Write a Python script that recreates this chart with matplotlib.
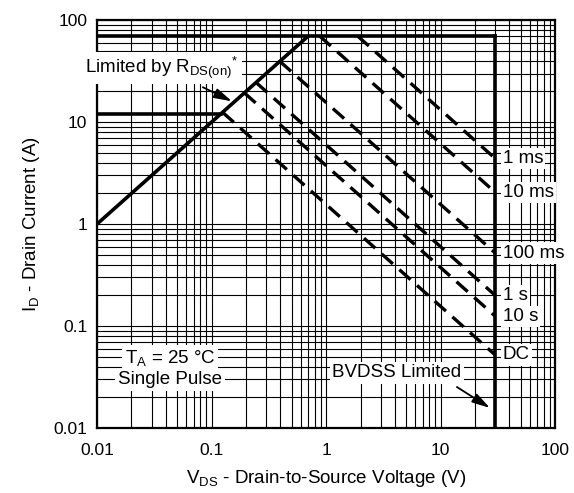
import numpy as np
import matplotlib.pyplot as plt
from matplotlib.ticker import FixedLocator, LogLocator, NullFormatter

plt.rcParams['font.family'] = ['Liberation Sans', 'DejaVu Sans']
plt.rcParams['mathtext.fontset'] = 'custom'
plt.rcParams['mathtext.rm'] = 'Liberation Sans'
plt.rcParams['mathtext.it'] = 'Liberation Sans'
plt.rcParams['mathtext.bf'] = 'Liberation Sans:bold'

# limits of the safe operating area
id_max = 70.0      # A, package limit
id_low = 12.0      # A, left flat segment
bvdss = 30.0       # V
rds_on = 0.01      # ohm -> I = V / rds_on

# pulse lines, current read at V = BVDSS
pulse_labels = ["1 ms", "10 ms", "100 ms", "1 s", "10 s", "DC"]
i_at_bvdss = [4.4, 2.05, 0.52, 0.2, 0.125, 0.052]

x_ticks = [0.01, 0.1, 1, 10, 100]
x_ticklabels = ["0.01", "0.1", "1", "10", "100"]
y_ticks = [0.01, 0.1, 1, 10, 100]
y_ticklabels = ["0.01", "0.1", "1", "10", "100"]

fs = 13.5

fig = plt.figure(figsize=(5.74, 4.93), dpi=100)
ax = fig.add_axes([0.169, 0.132, 0.798, 0.827])
ax.set_xscale('log')
ax.set_yscale('log')
ax.set_xlim(0.01, 100)
ax.set_ylim(0.01, 100)

ax.xaxis.set_major_locator(FixedLocator(x_ticks))
ax.yaxis.set_major_locator(FixedLocator(y_ticks))
ax.set_xticklabels(x_ticklabels)
ax.set_yticklabels(y_ticklabels)
ax.xaxis.set_minor_locator(LogLocator(base=10, subs=np.arange(2, 10)))
ax.yaxis.set_minor_locator(LogLocator(base=10, subs=np.arange(2, 10)))
ax.xaxis.set_minor_formatter(NullFormatter())
ax.yaxis.set_minor_formatter(NullFormatter())
ax.tick_params(which='both', length=0, labelsize=12.5)
ax.tick_params(axis='x', pad=11)
ax.tick_params(axis='y', pad=7)
ax.grid(True, which='both', color='black', lw=0.8)
for s in ax.spines.values():
    s.set_linewidth(1.6)

thick = 2.6
# Rds(on) line up to the package limit
v_knee = id_max * rds_on
ax.plot([0.01, v_knee], [0.01 / rds_on, id_max], color='black', lw=thick,
        solid_capstyle='butt')
ax.plot([0.01, bvdss], [id_max, id_max], color='black', lw=thick)
ax.plot([0.01, id_low * rds_on], [id_low, id_low], color='black', lw=thick)
ax.plot([bvdss, bvdss], [0.01, id_max], color='black', lw=thick)

# constant power lines
for lab, ie in zip(pulse_labels, i_at_bvdss):
    p = ie * bvdss
    v0 = max(np.sqrt(p * rds_on), p / id_max)
    vv = np.array([v0, bvdss])
    ax.plot(vv, p / vv, color='black', lw=2.4, linestyle=(0, (4.5, 2.6)),
            dash_capstyle='butt')
    ax.text(35, ie, lab, fontsize=fs, ha='left', va='center',
            bbox=dict(facecolor='white', edgecolor='none', pad=1.5))

arrow = dict(arrowstyle='-|>,head_length=0.9,head_width=0.25',
             color='black', lw=1.3, mutation_scale=12, shrinkA=0, shrinkB=0)
box = dict(facecolor='white', edgecolor='none', pad=2)

ax.text(0.037, 34, r"Limited by R$_{\mathregular{DS(on)}}$$^{*}$", fontsize=fs,
        ha='center', va='center', bbox=box, clip_on=False, zorder=5)
ax.annotate("", xy=(0.151, 16), xytext=(0.084, 22), arrowprops=arrow)

ax.text(4.17, 0.0346, "BVDSS Limited", fontsize=fs, ha='center', va='center',
        bbox=box)
ax.annotate("", xy=(27, 0.0157), xytext=(13.9, 0.0252), arrowprops=arrow)

ax.text(0.0434, 0.0485, r"T$_\mathregular{A}$ = 25 °C", fontsize=fs,
        ha='center', va='center', bbox=box)
ax.text(0.0434, 0.0296, "Single Pulse", fontsize=fs, ha='center',
        va='center', bbox=box)

ax.set_xlabel(r"V$_\mathregular{DS}$ - Drain-to-Source Voltage (V)",
              fontsize=fs, labelpad=7)
ax.set_ylabel(r"I$_\mathregular{D}$ - Drain Current (A)", fontsize=fs,
              labelpad=8)

fig.savefig("out.png", dpi=100)
